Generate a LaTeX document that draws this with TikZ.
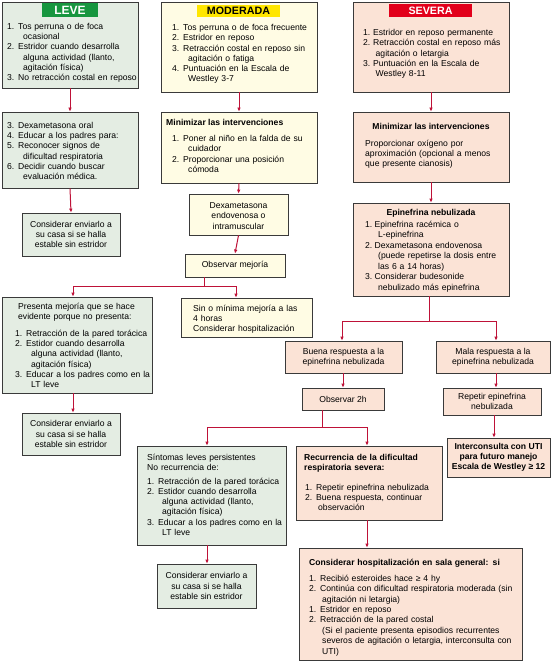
\documentclass[tikz,border=0pt]{standalone}
\usepackage{fontspec}
\setmainfont{Liberation Sans}
\usetikzlibrary{arrows.meta,fit}
\definecolor{gfill}{HTML}{E4EDE3}
\definecolor{yfill}{HTML}{FFFCE4}
\definecolor{pfill}{HTML}{FBE3D6}
\definecolor{edgecol}{HTML}{3A3A3A}
\definecolor{arrcol}{HTML}{BE1238}
\definecolor{hgreen}{HTML}{17963F}
\definecolor{hyellow}{HTML}{FFE600}
\definecolor{hred}{HTML}{E2001B}
\newlength\ithang \newlength\itlab
\setlength\ithang{16bp}\setlength\itlab{11bp}
\newcommand\itm[2]{\noindent\hangindent=\ithang\hangafter=1\makebox[\itlab][l]{#1.}#2\par}
\newcommand\fs{\fontsize{8.6bp}{10.2bp}\selectfont}
\begin{document}
\begin{tikzpicture}[x=1bp,y=-1bp,
  box/.style={draw=edgecol, line width=0.8bp, inner sep=0pt},
  gbox/.style={box, fill=gfill}, ybox/.style={box, fill=yfill}, pbox/.style={box, fill=pfill},
  txt/.style={anchor=north west, inner sep=0pt, font=\fs, align=left},
  ctr/.style={inner sep=0pt, font=\fs, align=center},
  hd/.style={inner sep=0pt, font=\bfseries\fontsize{10.7bp}{12bp}\selectfont},
  conn/.style={draw=arrcol, line width=1bp},
  arr/.style={conn, -{Latex[length=4bp,width=3.6bp]}}]
\useasboundingbox[fill=white] (0,0) rectangle (554,661);

% ---------------- LEVE column
\node[gbox, fit={(2,2) (138,88)}] (leve) {};
\node[hd, fill=hgreen, minimum width=56bp, minimum height=14bp] (hleve) at (70,10) {};
\node[hd, text=white, font=\bfseries\fontsize{12bp}{12bp}\selectfont] (hlevet) at (hleve.center) {LEVE};
\node[txt, text width=131bp] (tleve) at (7,23) {\itm{1}{Tos perruna o de foca\newline ocasional}\itm{2}{Estridor cuando desarrolla\newline alguna actividad (llanto,\newline agitación física)}\itm{3}{No retracción costal en reposo}};

\node[gbox, fit={(2,112) (138,188)}] (leve2) {};
\node[txt, text width=131bp] (tleve2) at (7,122) {\itm{3}{Dexametasona oral}\itm{4}{Educar a los padres para:}\itm{5}{Reconocer signos de\newline dificultad respiratoria}\itm{6}{Decidir cuando buscar\newline evaluación médica.}};

\node[gbox, fit={(22,213) (120,256)}] (leve3) {};
\node[ctr] (tleve3) at (leve3.center) {Considerar enviarlo a\\su casa si se halla\\estable sin estridor};

% ---------------- MODERADA column
\node[ybox, fit={(161,2) (317,92)}] (mod) {};
\node[hd, fill=hyellow, minimum width=83bp, minimum height=12bp] (hmod) at (238.5,11) {};
\node[hd] (hmodt) at (hmod.center) {MODERADA};
\node[txt, text width=143bp] (tmod) at (172,24.2) {\itm{1}{Tos perruna o de foca frecuente}\itm{2}{Estridor en reposo}\itm{3}{Retracción costal en reposo sin\newline agitación o fatiga}\itm{4}{Puntuación en la Escala de\newline Westley 3-7}};

\node[ybox, fit={(161,112) (317,183)}] (mod2) {};
\node[txt, font=\fs\bfseries] (hmod2) at (166,119) {Minimizar las intervenciones};
\node[txt, text width=143bp] (tmod2) at (172,135.3) {\itm{1}{Poner al niño en la falda de su\newline cuidador}\itm{2}{Proporcionar una posición\newline cómoda}};

\node[ybox, fit={(189,194) (288,235)}] (dexa) {};
\node[ctr] (tdexa) at ([yshift=-1.5bp]dexa.center) {Dexametasona\\endovenosa o\\intramuscular};
\node[ybox, fit={(185,254) (285,277)}] (obs) {};
\node[ctr] (tobs) at (obs.center) {Observar mejoría};

\node[gbox, fit={(2,297) (152,393)}] (pres) {};
\node[txt, text width=135bp] (hpres) at (18,303) {Presenta mejoría que se hace\newline evidente porque no presenta:};
\node[txt, text width=135bp] (tpres) at (15,330) {\itm{1}{Retracción de la pared torácica}\itm{2}{Estidor cuando desarrolla\newline alguna actividad (llanto,\newline agitación física)}\itm{3}{Educar a los padres como en la\newline LT leve}};

\node[ybox, fit={(181,298) (312,337)}] (sin) {};
\node[txt, text width=118bp] (tsin) at (193,304.8) {Sin o mínima mejoría a las\newline 4 horas\newline Considerar hospitalización};

\node[gbox, fit={(22,413) (120,455)}] (leve4) {};
\node[ctr] (tleve4) at (leve4.center) {Considerar enviarlo a\\su casa si se halla\\estable sin estridor};

% ---------------- SEVERA column
\node[pbox, fit={(353,2) (509,92)}] (sev) {};
\node[hd, fill=hred, minimum width=83bp, minimum height=13bp] (hsev) at (430.5,10.5) {};
\node[hd, text=white] (hsevt) at (hsev.center) {SEVERA};
\node[txt, text width=144bp] (tsev) at (363,29.3) {\setlength\ithang{12.5bp}\setlength\itlab{10bp}\itm{1}{Estridor en reposo permanente}\itm{2}{Retracción costal en reposo más\newline agitación o letargia}\itm{3}{Puntuación en la Escala de\newline Westley 8-11}};

\node[pbox, fit={(353,112) (509,182)}] (sev2) {};
\node[inner sep=0pt, font=\fs\bfseries] (hsev2) at (431,126) {Minimizar las intervenciones};
\node[txt, text width=142bp] (tsev2) at (365,139.8) {Proporcionar oxígeno por\newline aproximación (opcional a menos\newline que presente cianosis)};

\node[pbox, fit={(353,203) (509,296)}] (epi) {};
\node[inner sep=0pt, font=\fs\bfseries] (hepi) at (431,213) {Epinefrina nebulizada};
\node[txt, text width=142bp] (tepi) at (365,220.8) {\setlength\ithang{13bp}\setlength\itlab{9.5bp}\fontsize{8.6bp}{10.5bp}\selectfont\itm{1}{Epinefrina racémica o\newline L-epinefrina}\itm{2}{Dexametasona endovenosa\newline (puede repetirse la dosis entre\newline las 6 a 14 horas)}\itm{3}{Considerar budesonide\newline nebulizado más epinefrina}};

\node[pbox, fit={(285,341) (402,373)}] (buena) {};
\node[ctr] (tbuena) at (buena.center) {Buena respuesta a la\\epinefrina nebulizada};
\node[pbox, fit={(436,341) (550,373)}] (mala) {};
\node[ctr] (tmala) at (mala.center) {Mala respuesta a la\\epinefrina nebulizada};
\node[pbox, fit={(302,388) (384,410)}] (obs2) {};
\node[ctr] (tobs2) at (obs2.center) {Observar 2h};
\node[pbox, fit={(443,388) (541,415)}] (rep) {};
\node[ctr] (trep) at (rep.center) {Repetir epinefrina\\nebulizada};
\node[pbox, fit={(447,438) (550,477)}] (inter) {};
\node[ctr, font=\fs\bfseries] (tinter) at (inter.center) {Interconsulta con UTI\\para futuro manejo\\Escala de Westley ≥ 12};

\node[gbox, fit={(137,446) (286,545)}] (sint) {};
\node[txt, text width=135bp] (hsint) at (147,453.8) {Síntomas leves persistentes\newline No recurrencia de:};
\node[txt, text width=136bp] (tsint) at (147,477.8) {\setlength\ithang{15bp}\itm{1}{Retracción de la pared torácica}\itm{2}{Estidor cuando desarrolla\newline alguna actividad (llanto,\newline agitación física)}\itm{3}{Educar a los padres como en la\newline LT leve}};

\node[pbox, fit={(296,446) (442,520)}] (recu) {};
\node[txt, text width=135bp, font=\fs\bfseries] (hrecu) at (304,453.8) {Recurrencia de la dificultad\newline respiratoria severa:};
\node[txt, text width=135bp] (trecu) at (305,483.8) {\setlength\ithang{13bp}\itm{1}{Repetir epinefrina nebulizada}\itm{2}{Buena respuesta, continuar\newline observación}};

\node[pbox, fit={(299,548) (522,660)}] (hosp) {};
\node[txt, text width=210bp, font=\fs\bfseries] (hhosp) at (309,558.8) {Considerar hospitalización en sala general: si};
\node[txt, text width=210bp] (thosp) at (309,574.8) {\setlength\ithang{13bp}\fontsize{8.6bp}{10.4bp}\selectfont\itm{1}{Recibió esteroides hace ≥ 4 hy}\itm{2}{Continúa con dificultad respiratoria moderada (sin\newline agitación ni letargia)}\itm{1}{Estridor en reposo}\itm{2}{Retracción de la pared costal\newline (Si el paciente presenta episodios recurrentes\newline severos de agitación o letargia, interconsulta con\newline UTI)}};

\node[gbox, fit={(157,564) (256,608)}] (leve5) {};
\node[ctr] (tleve5) at (leve5.center) {Considerar enviarlo a\\su casa si se halla\\estable sin estridor};

% ---------------- connectors
\draw[arr] (leve.south) -- (leve2.north);
\draw[arr] (leve2.south) -- (leve3.north);
\draw[arr] (mod.south) -- (mod2.north);
\draw[arr] (mod2.south) -- (dexa.north);
\draw[arr] (dexa.south) -- (obs.north);
\coordinate (j1) at (204,286);
\coordinate (x73) at (73,0);
\coordinate (x236) at (236,0);
\draw[conn] (obs.south -| j1) -- (j1);
\draw[arr] (j1) -| (pres.north -| x73);
\draw[arr] (j1) -| (sin.north -| x236);
\draw[arr] (pres.south -| x73) -- (leve4.north -| x73);

\draw[arr] (sev.south) -- (sev2.north);
\draw[arr] (sev2.south) -- (epi.north);
\coordinate (j2) at (429,321);
\coordinate (x342) at (342,0);
\coordinate (x497) at (496,0);
\draw[conn] (epi.south -| j2) -- (j2);
\draw[arr] (j2) -| (buena.north -| x342);
\draw[arr] (j2) -| (mala.north -| x497);
\draw[arr] (buena.south -| obs2.north) -- (obs2.north);
\draw[arr] (mala.south -| x497) -- (rep.north -| x497);
\coordinate (x493) at (494,0);
\draw[arr] (rep.south -| x493) -- (inter.north -| x493);

\coordinate (j3) at (322,427);
\coordinate (x207) at (207,0);
\coordinate (x367) at (367,0);
\draw[conn] (obs2.south -| j3) -- (j3);
\draw[arr] (j3) -| (sint.north -| x207);
\draw[arr] (j3) -| (recu.north -| x367);
\draw[arr] (recu.south -| x367) -- (hosp.north -| x367);
\draw[arr] (sint.south -| x207) -- (leve5.north -| x207);
\end{tikzpicture}
\end{document}
